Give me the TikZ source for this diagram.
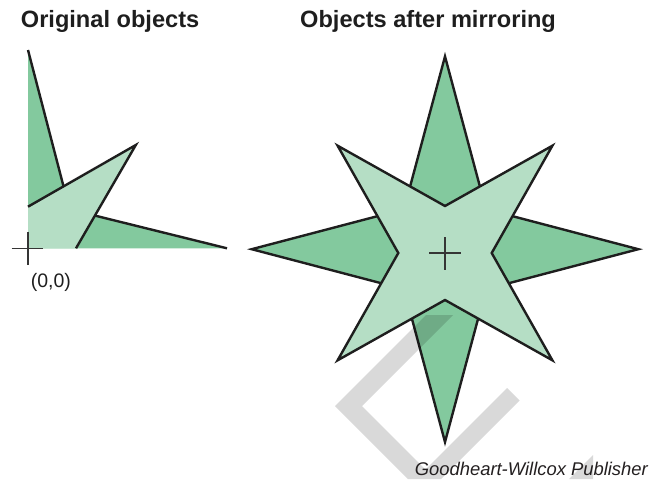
\documentclass[tikz,border=0pt]{standalone}
\usepackage{fontspec}
\setmainfont{Liberation Sans}
\definecolor{darkg}{HTML}{83C99E}
\definecolor{lightg}{HTML}{B5DEC5}
\definecolor{ink}{HTML}{1E1E1E}
\definecolor{credit}{HTML}{231F20}
\begin{document}
\begin{tikzpicture}[x=1pt,y=-1pt,
  outline/.style={draw=ink,line width=2.4pt,line join=miter},
  cross/.style={draw=ink!90,line width=1.1pt},
  title/.style={inner sep=0pt,anchor=base west,font=\fontsize{23.6pt}{26pt}\selectfont\bfseries,text=ink},
  wmark/.style={fill=black,fill opacity=0.15}]
\useasboundingbox (0,0) rectangle (652,479);

% ---------- original objects ----------
\coordinate (O) at (28,248.3);
\coordinate (dT) at (28,50);
\coordinate (dI) at (69.5,209.3);
\coordinate (dR) at (227,248.3);
\coordinate (lL) at (28,206.7);
\coordinate (lT) at (135.8,145);
\coordinate (lB) at (76,248.3);
\fill[darkg] (O) -- (dT) -- (dI) -- (dR) -- cycle;
\draw[outline] (dT) -- (dI) -- (dR);
\fill[lightg] (O) -- (lL) -- (lT) -- (lB) -- cycle;
\draw[outline] (lL) -- (lT) -- (lB);
\draw[cross] (11.7,248.3) -- (43.3,248.3);
\draw[cross] (28,231.7) -- (28,265);

% ---------- mirrored star ----------
\begin{scope}[shift={(445,249.2)}]
  \filldraw[fill=darkg,outline]
    (0,-192.8) -- (41,-40) -- (193.3,0) -- (41,40) -- (0,192.8)
    -- (-41,40) -- (-193.3,0) -- (-41,-40) -- cycle;
\end{scope}
\begin{scope}[shift={(445,253)}]
  \filldraw[fill=lightg,outline]
    (107.4,-107.3) -- (46.7,0) -- (107.4,107.3) -- (0,47)
    -- (-107.4,107.3) -- (-46.7,0) -- (-107.4,-107.3) -- (0,-47) -- cycle;
  \coordinate (C) at (0,0);
  \draw[cross] (-16,0) -- (16,0);
  \draw[cross] (0,-16) -- (0,17);
\end{scope}

% ---------- watermark ----------
\fill[wmark]
  (426,315) -- (335,406) -- (408,479) -- (435,479) -- (362,406) -- (453,315) -- cycle
  (416,479) -- (441,479) -- (519.5,400.5) -- (507,388) -- cycle
  (569,479) -- (593,479) -- (593,455) -- cycle;

% ---------- texts ----------
\node[title] (t1) at (20.7,27.7) {Original objects};
\node[title] (t2) at (300,27.7) {Objects after mirroring};
\node[inner sep=0pt,anchor=base west,font=\fontsize{19.5pt}{22pt}\selectfont,text=ink] (org) at (30.7,287) {(0,0)};
\node[inner sep=0pt,anchor=base east,font=\fontsize{18.4pt}{21pt}\selectfont\itshape,text=credit] (cr) at (648,475) {Goodheart-Willcox Publisher};
\end{tikzpicture}
\end{document}
